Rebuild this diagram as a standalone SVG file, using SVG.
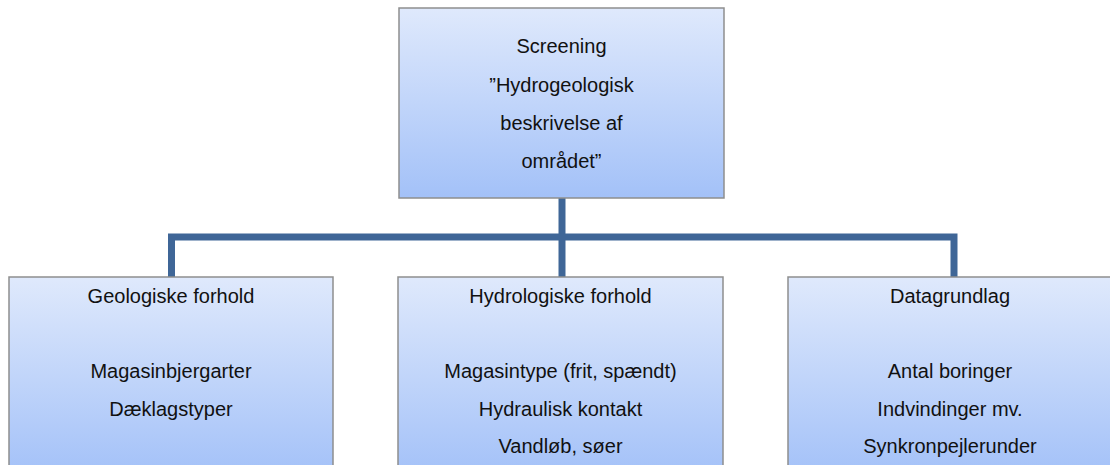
<svg xmlns="http://www.w3.org/2000/svg" width="1110" height="465" viewBox="0 0 1110 465">
  <defs>
    <linearGradient id="fillTop" x1="0" y1="0" x2="0" y2="1">
      <stop offset="0" stop-color="#dfe9fc"/>
      <stop offset="1" stop-color="#a3c1f8"/>
    </linearGradient>
    <linearGradient id="fillChild" x1="0" y1="0" x2="0" y2="1">
      <stop offset="0" stop-color="#dfe9fc"/>
      <stop offset="1" stop-color="#a3c1f8"/>
    </linearGradient>
  </defs>
  <style>
    .box { stroke: #8e8e8e; stroke-width: 1.5; }
    .lbl { font-family: "Liberation Sans", Arial, sans-serif; font-size: 20px; fill: #111; text-anchor: middle; }
    .conn { stroke: #3f6697; stroke-width: 7; fill: none; stroke-linejoin: miter; stroke-linecap: butt; }
  </style>
  <rect width="1110" height="465" fill="#ffffff"/>

  <g id="connectors">
    <path class="conn" d="M562 198 V277"/>
    <path class="conn" d="M171.5 277 V237 H954 V277"/>
  </g>

  <g id="node-screening">
    <rect class="box" x="399" y="8" width="325" height="190" fill="url(#fillTop)"/>
    <text class="lbl" x="561.5" y="53">Screening</text>
    <text class="lbl" x="561.5" y="92">”Hydrogeologisk</text>
    <text class="lbl" x="561.5" y="130">beskrivelse af</text>
    <text class="lbl" x="561.5" y="168">området”</text>
  </g>

  <g id="node-geologiske">
    <rect class="box" x="9" y="277" width="324" height="200" fill="url(#fillChild)"/>
    <text class="lbl" x="171" y="303">Geologiske forhold</text>
    <text class="lbl" x="171" y="378">Magasinbjergarter</text>
    <text class="lbl" x="171" y="416">Dæklagstyper</text>
  </g>

  <g id="node-hydrologiske">
    <rect class="box" x="398" y="277" width="325" height="200" fill="url(#fillChild)"/>
    <text class="lbl" x="560.5" y="303">Hydrologiske forhold</text>
    <text class="lbl" x="560.5" y="378">Magasintype (frit, spændt)</text>
    <text class="lbl" x="560.5" y="416">Hydraulisk kontakt</text>
    <text class="lbl" x="560.5" y="453">Vandløb, søer</text>
  </g>

  <g id="node-datagrundlag">
    <rect class="box" x="788" y="277" width="325" height="200" fill="url(#fillChild)"/>
    <text class="lbl" x="950" y="303">Datagrundlag</text>
    <text class="lbl" x="950" y="378">Antal boringer</text>
    <text class="lbl" x="950" y="416">Indvindinger mv.</text>
    <text class="lbl" x="950" y="453">Synkronpejlerunder</text>
  </g>
</svg>
